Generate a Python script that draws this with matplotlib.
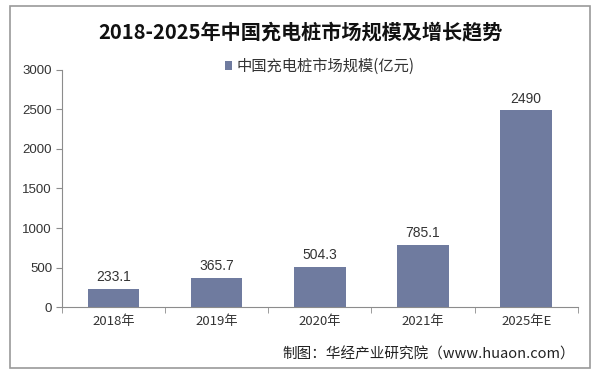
import matplotlib
matplotlib.use('Agg')
import matplotlib.pyplot as plt
import matplotlib.patches as mpatches
import numpy as np

plt.rcParams['font.family'] = ['Noto Sans CJK SC', 'DejaVu Sans']

# 数据
years = ['2018年', '2019年', '2020年', '2021年', '2025年E']
market = [233.1, 365.7, 504.3, 785.1, 2490]
value_labels = ['233.1', '365.7', '504.3', '785.1', '2490']
yticks = [0, 500, 1000, 1500, 2000, 2500, 3000]

bar_color = '#6F7B9F'
grey = '#8C8C8C'

fig = plt.figure(figsize=(6, 3.74), dpi=100)
ax = fig.add_axes([0.103, 0.179, 0.86, 0.634])

x = np.arange(len(years))
bars = ax.bar(x, market, width=0.5, color=bar_color, label='中国充电桩市场规模(亿元)', zorder=3)
for xi, v, lab in zip(x, market, value_labels):
    ax.text(xi, v + 60, lab, ha='center', va='bottom', fontsize=10, color='#333333',
            family=['Liberation Sans', 'DejaVu Sans'])

ax.set_xlim(-0.5, len(years) - 0.5)
ax.set_ylim(0, 3000)
ax.set_yticks(yticks)
ax.set_yticklabels([str(t) for t in yticks], family=['Liberation Sans', 'DejaVu Sans'],
                   fontsize=9.5, color='#333333')
ax.set_xticks(x)
ax.set_xticklabels(years, fontsize=9.5, color='#333333')
ax.set_xticks(np.arange(len(years) + 1) - 0.5, minor=True)
ax.tick_params(axis='x', which='major', length=0, pad=6)
ax.tick_params(axis='x', which='minor', length=4, color=grey, direction='out')
ax.tick_params(axis='y', length=4, color=grey, direction='out', pad=3)
for s in ['top', 'right']:
    ax.spines[s].set_visible(False)
ax.spines['left'].set_color(grey)
ax.spines['bottom'].set_color(grey)

ax.legend(loc='upper center', bbox_to_anchor=(0.5, 1.11), frameon=False, fontsize=11,
          handlelength=0.5, handleheight=0.5, handletextpad=0.3, labelcolor='#333333')

fig.text(0.5, 0.915, '2018-2025年中国充电桩市场规模及增长趋势', ha='center', va='center',
         fontsize=14.5, fontweight='bold', color='#111111')
fig.text(0.958, 0.052, '制图：华经产业研究院（www.huaon.com）', ha='right', va='center',
         fontsize=10.5, color='#222222')

# 外框
fig.patches.append(mpatches.Rectangle((0.017, 0.015), 0.966, 0.97, transform=fig.transFigure,
                                      fill=False, edgecolor='#9A9A9A', linewidth=1.2))

fig.savefig('out.png', dpi=100)
